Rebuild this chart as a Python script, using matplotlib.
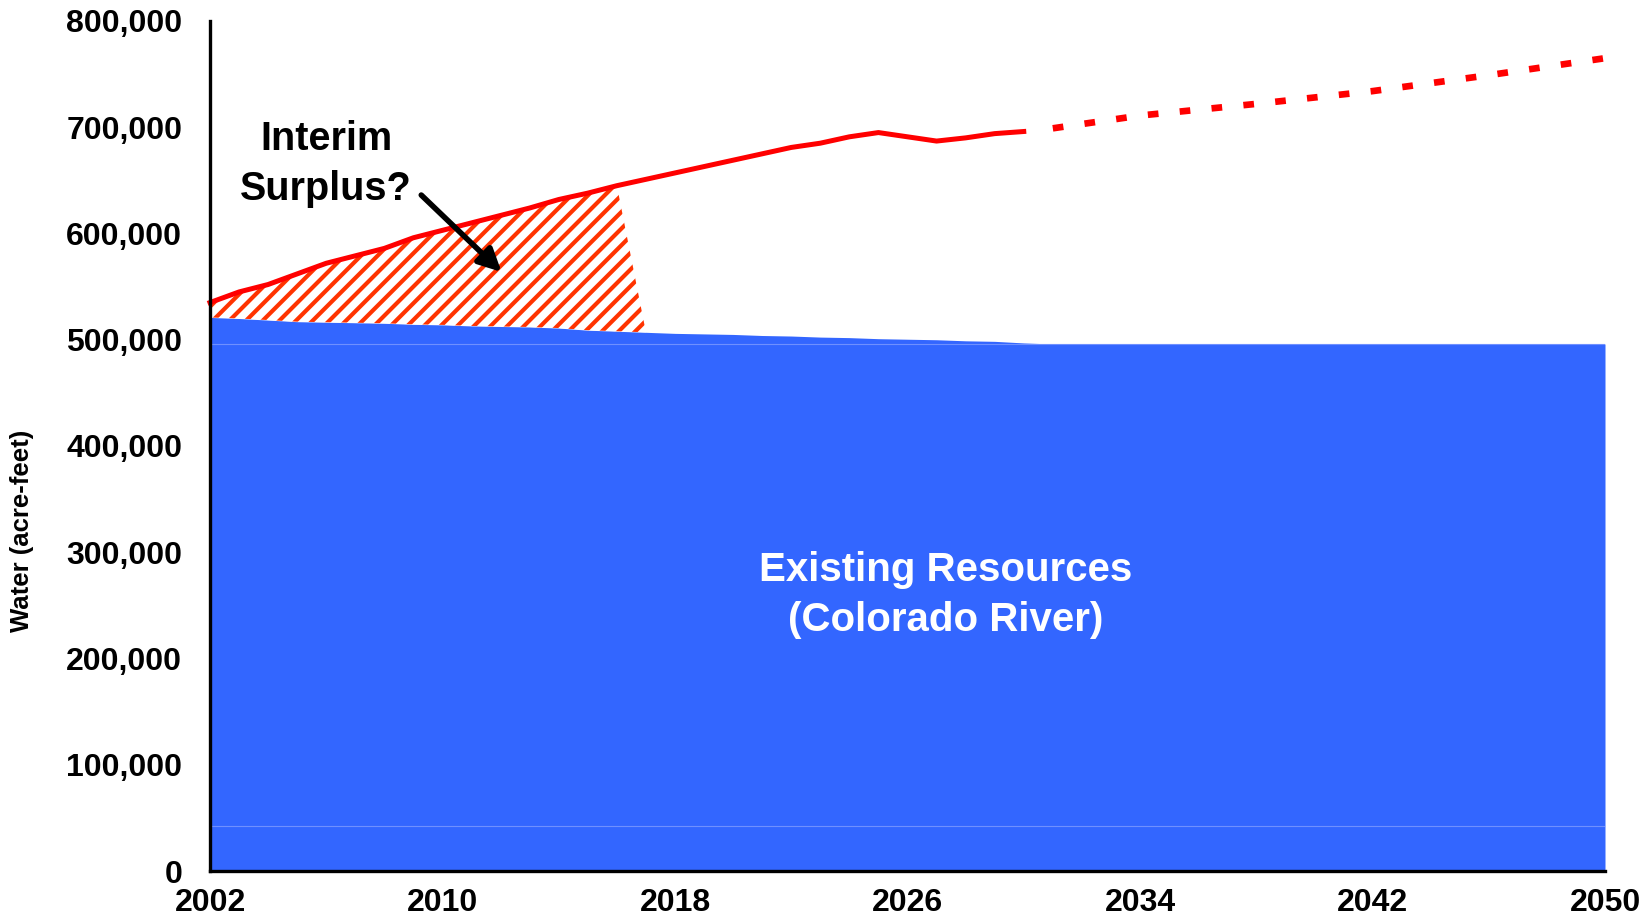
import matplotlib.pyplot as plt
import matplotlib.ticker as mticker
import numpy as np

plt.rcParams["font.family"] = ["Liberation Sans", "DejaVu Sans"]
plt.rcParams["font.weight"] = "bold"
plt.rcParams["hatch.linewidth"] = 3.0

# ── Data ──────────────────────────────────────────────────────────────────
years = list(range(2002, 2051))

# Existing resources (Colorado River), stacked layers in acre-feet
base_layer = [42000] * len(years)
main_layer = [454000] * len(years)
# extra supply above 496,000 that tapers off by ~2031
extra_layer = [25000, 24000, 22500, 21000, 20500, 20000, 19500, 18500, 18000,
               17000, 16500, 16000, 15000, 13000, 12000, 11000, 10000, 9500,
               9000, 8000, 7500, 6500, 6000, 5000, 4500, 4000, 3000, 2500,
               1000, 0] + [0] * 19

# Demand (solid through 2030)
demand_years = list(range(2002, 2031))
demand = [535000, 545000, 552000, 562000, 572000, 579000, 586000, 596000,
          603000, 610000, 617000, 624000, 632000, 638000, 645000, 651000,
          657000, 663000, 669000, 675000, 681000, 685000, 691000, 695000,
          691000, 687000, 690000, 694000, 696000]

# Projected demand (dotted)
proj_years = [2031, 2034, 2038, 2042, 2046, 2050]
proj_demand = [699000, 711000, 722000, 734000, 749000, 765000]

# Interim surplus: demand above existing resources, through 2016
surplus_years = list(range(2002, 2018))

xticks = [2002, 2010, 2018, 2026, 2034, 2042, 2050]
yticks = list(range(0, 800001, 100000))

BLUE = "#3366FF"
RED = "#FF0000"
HATCH = "#FF3300"

# ── Figure ────────────────────────────────────────────────────────────────
fig = plt.figure(figsize=(16.52, 9.21), dpi=100)
ax = fig.add_axes([210 / 1652, 50 / 921, 1395 / 1652, 850 / 921])

yrs = np.array(years)
lvl1 = np.array(base_layer)
lvl2 = lvl1 + np.array(main_layer)
lvl3 = lvl2 + np.array(extra_layer)

ax.fill_between(yrs, 0, lvl3, color=BLUE, lw=0, zorder=2)
ax.plot(yrs, lvl1, color="#6F90FF", lw=0.8, zorder=3)
ax.plot(yrs, lvl2, color="#6F90FF", lw=0.8, zorder=3)

# hatched surplus area
supply = dict(zip(years, lvl3))
dem = dict(zip(demand_years, demand))
s_bottom = [supply[y] for y in surplus_years]
s_top = [dem[y] if y < 2017 else supply[y] for y in surplus_years]
ax.fill_between(surplus_years, s_bottom, s_top, facecolor="white",
                edgecolor=HATCH, hatch="//", lw=0, zorder=2)

ax.plot(demand_years, demand, color=RED, lw=3.6, zorder=4, clip_on=False)
ax.plot(proj_years, proj_demand, color=RED, lw=4.8, zorder=4,
        linestyle=(0, (1.6, 3.2)), dash_capstyle="butt", clip_on=False)

# ── Annotations ───────────────────────────────────────────────────────────
ax.text(2006.0, 665000, "Interim\nSurplus?", ha="center", va="center",
        fontsize=28.5, fontweight="bold", linespacing=1.4, zorder=5)
ax.annotate("", xy=(2012.1, 562000), xytext=(2009.2, 638000),
            arrowprops=dict(arrowstyle="-|>", lw=4, color="black",
                            mutation_scale=34), zorder=5)
ax.text(2027.3, 260000, "Existing Resources\n(Colorado River)", ha="center",
        va="center", fontsize=29, fontweight="bold", color="white",
        linespacing=1.4, zorder=5)

# ── Axes ──────────────────────────────────────────────────────────────────
ax.set_xlim(2002, 2050)
ax.set_ylim(0, 800000)
ax.set_xticks(xticks)
ax.set_yticks(yticks)
ax.yaxis.set_major_formatter(mticker.FuncFormatter(lambda v, p: f"{int(v):,}"))
ax.tick_params(axis="both", length=0, labelsize=23)
ax.tick_params(axis="y", pad=20)
ax.tick_params(axis="x", pad=12)
for lab in ax.get_xticklabels() + ax.get_yticklabels():
    lab.set_fontweight("bold")

ax.set_ylabel("Water (acre-feet)", fontsize=18.5, fontweight="bold")
ax.yaxis.set_label_coords(-0.126, 0.40)

for side in ["top", "right"]:
    ax.spines[side].set_visible(False)
for side in ["left", "bottom"]:
    ax.spines[side].set_linewidth(2.4)
    ax.spines[side].set_color("black")
    ax.spines[side].set_zorder(6)

fig.savefig("out.png", dpi=100)
